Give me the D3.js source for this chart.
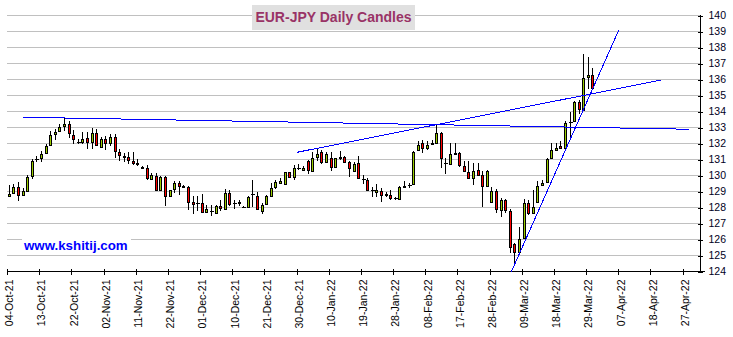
<!DOCTYPE html>
<html>
<head>
<meta charset="utf-8">
<script src="https://cdn.jsdelivr.net/npm/d3@7"></script>
<style>
  html, body { margin: 0; padding: 0; background: #fff; }
  svg { display: block; font-family: "Liberation Sans", Arial, sans-serif; }
</style>
</head>
<body>
<svg id="chart" width="733" height="337"></svg>
<script>
// Trading days (weekdays) shown as candles
const dates = [
  "2021-10-04","2021-10-05","2021-10-06","2021-10-07","2021-10-08","2021-10-11","2021-10-12","2021-10-13","2021-10-14","2021-10-15",
  "2021-10-18","2021-10-19","2021-10-20","2021-10-21","2021-10-22","2021-10-25","2021-10-26","2021-10-27","2021-10-28","2021-10-29",
  "2021-11-01","2021-11-02","2021-11-03","2021-11-04","2021-11-05","2021-11-08","2021-11-09","2021-11-10","2021-11-11","2021-11-12",
  "2021-11-15","2021-11-16","2021-11-17","2021-11-18","2021-11-19","2021-11-22","2021-11-23","2021-11-24","2021-11-25","2021-11-26",
  "2021-11-29","2021-11-30","2021-12-01","2021-12-02","2021-12-03","2021-12-06","2021-12-07","2021-12-08","2021-12-09","2021-12-10",
  "2021-12-13","2021-12-14","2021-12-15","2021-12-16","2021-12-17","2021-12-20","2021-12-21","2021-12-22","2021-12-23","2021-12-24",
  "2021-12-27","2021-12-28","2021-12-29","2021-12-30","2021-12-31","2022-01-03","2022-01-04","2022-01-05","2022-01-06","2022-01-07",
  "2022-01-10","2022-01-11","2022-01-12","2022-01-13","2022-01-14","2022-01-17","2022-01-18","2022-01-19","2022-01-20","2022-01-21",
  "2022-01-24","2022-01-25","2022-01-26","2022-01-27","2022-01-28","2022-01-31","2022-02-01","2022-02-02","2022-02-03","2022-02-04",
  "2022-02-07","2022-02-08","2022-02-09","2022-02-10","2022-02-11","2022-02-14","2022-02-15","2022-02-16","2022-02-17","2022-02-18",
  "2022-02-21","2022-02-22","2022-02-23","2022-02-24","2022-02-25","2022-02-28","2022-03-01","2022-03-02","2022-03-03","2022-03-04",
  "2022-03-07","2022-03-08","2022-03-09","2022-03-10","2022-03-11","2022-03-14","2022-03-15","2022-03-16","2022-03-17","2022-03-18",
  "2022-03-21","2022-03-22","2022-03-23","2022-03-24","2022-03-25","2022-03-28","2022-03-29","2022-03-30"
];

const open = [
  128.68,128.88,129.25,128.73,129.00,129.94,130.98,131.04,131.35,131.88,
  132.56,132.75,133.08,133.21,132.50,132.06,132.04,132.29,132.08,132.63,
  131.75,132.25,132.00,132.38,131.44,131.19,131.10,130.88,130.73,130.50,
  130.44,129.73,129.92,129.08,129.88,128.69,129.13,129.52,129.33,129.27,
  128.33,128.25,128.25,127.69,127.77,127.63,128.06,127.88,128.90,128.23,
  128.27,128.02,128.00,128.79,128.69,127.75,128.17,128.69,129.23,129.50,
  129.46,130.17,129.90,130.42,130.29,130.90,130.25,131.15,131.42,130.81,
  131.04,130.50,131.08,131.10,130.79,130.25,130.77,129.75,129.69,129.06,
  128.94,129.02,128.77,128.75,128.54,128.48,129.27,129.38,129.46,131.56,
  132.00,131.67,131.96,132.00,132.63,130.75,130.67,131.33,131.35,130.56,
  130.21,129.81,130.31,130.02,129.29,128.31,129.02,127.81,128.42,127.77,
  125.69,125.17,126.06,128.25,127.63,128.31,129.38,129.56,131.04,131.56,
  131.83,131.69,133.29,133.35,134.56,134.06,136.13,136.25
];
const high = [
  129.35,129.46,129.54,129.17,130.00,131.02,131.21,131.48,131.92,132.75,
  132.88,133.19,133.54,133.38,132.81,132.25,132.71,132.67,132.94,132.88,
  132.38,132.42,132.56,132.54,131.63,131.38,131.44,131.44,131.00,130.54,
  130.65,130.13,130.13,129.92,129.92,129.08,129.60,129.60,129.38,129.33,
  128.67,128.67,128.83,128.15,128.13,128.15,128.42,129.13,129.08,128.46,
  128.42,128.06,128.67,129.67,128.96,128.25,128.75,129.50,129.67,129.79,
  130.21,130.21,130.60,130.67,130.58,130.96,131.42,131.69,131.58,131.42,
  131.42,131.08,131.48,131.21,130.85,130.79,131.21,130.02,129.81,129.23,
  129.42,129.21,128.96,129.04,128.63,129.29,129.63,129.50,131.50,132.13,
  132.21,132.13,132.17,133.13,132.67,131.06,131.98,131.98,131.44,130.85,
  130.90,130.75,130.75,130.23,130.31,129.27,129.15,128.56,128.52,127.90,
  125.75,126.77,128.52,128.44,129.08,129.60,129.71,131.06,131.98,131.98,
  132.10,133.38,133.94,134.65,134.71,137.56,137.35,136.69
];
const low = [
  128.62,128.79,128.35,128.70,128.96,129.75,130.79,130.79,131.29,131.83,
  132.17,132.71,132.75,132.29,131.96,131.94,131.96,131.63,131.63,131.83,
  131.73,131.54,131.79,131.04,130.85,130.83,130.71,130.65,130.58,130.40,
  129.71,129.69,129.02,129.04,128.04,128.60,128.90,128.73,129.21,127.83,
  127.56,127.77,127.63,127.63,127.46,127.56,127.73,127.83,128.04,127.88,
  128.04,127.98,127.98,128.00,127.83,127.54,128.13,128.67,129.15,129.44,
  129.35,129.83,129.67,130.29,130.25,130.04,130.21,130.85,130.71,130.75,
  130.27,130.46,130.96,130.75,129.88,130.17,129.75,129.46,129.02,128.60,
  128.63,128.33,128.63,128.42,128.46,128.46,129.25,129.17,129.42,131.54,
  131.38,131.58,131.88,131.92,130.44,130.08,130.60,131.23,130.48,130.19,
  129.77,129.40,129.98,127.98,129.25,128.27,127.63,127.38,127.63,125.10,
  124.50,125.15,126.02,127.48,127.58,128.27,129.35,129.52,131.00,131.52,
  131.65,131.65,132.35,133.31,133.81,134.02,135.38,135.40
];
const close = [
  128.82,129.25,128.73,129.00,129.88,130.90,131.00,131.33,131.83,132.50,
  132.71,133.02,133.21,132.63,132.25,132.04,132.25,132.08,132.63,131.90,
  132.25,132.00,132.38,131.50,131.23,131.10,130.94,130.73,130.71,130.44,
  129.79,130.00,129.06,129.90,128.69,129.06,129.52,129.31,129.25,128.31,
  128.21,128.27,127.69,127.90,127.75,128.06,127.94,128.90,128.21,128.25,
  128.29,128.00,128.63,128.81,127.88,128.15,128.69,129.21,129.58,129.60,
  130.17,129.88,130.46,130.44,130.42,130.31,131.06,131.33,130.79,131.33,
  130.52,131.04,131.10,130.81,130.46,130.71,129.81,129.73,129.06,129.04,
  129.06,128.75,128.79,128.54,128.56,129.25,129.29,129.39,131.46,131.90,
  131.71,131.90,131.98,132.63,131.06,130.73,131.31,131.35,130.60,130.23,
  129.81,130.27,130.00,129.29,130.25,129.02,127.88,128.46,127.81,125.50,
  125.17,126.02,128.25,127.63,128.00,129.31,129.52,131.00,131.56,131.69,
  131.69,133.25,133.31,134.56,134.10,136.06,136.25,135.44
];

// Category axis labels, one every 7 trading days
const tickLabels = [
  "04-Oct-21","13-Oct-21","22-Oct-21","02-Nov-21","11-Nov-21","22-Nov-21","01-Dec-21","10-Dec-21",
  "21-Dec-21","30-Dec-21","10-Jan-22","19-Jan-22","28-Jan-22","08-Feb-22","17-Feb-22","28-Feb-22",
  "09-Mar-22","18-Mar-22","29-Mar-22","07-Apr-22","18-Apr-22","27-Apr-22"
];
const tickStep = 7;
const totalSlots = 151;            // trading-day slots on the axis (includes space ahead)
const priceTicks = d3.range(124, 141);

// Trend lines as [slot, price] anchor pairs
const trendLines = [
  [[3.55, 133.61], [148.46, 132.86]],
  [[63.23, 131.42], [142.52, 135.94]],
  [[109.84, 123.95], [133.29, 139.10]]
];

const svg = d3.select("#chart");
const plotL = 6.5, plotR = 700.5, plotT = 15, plotB = 271;

const x = d3.scaleLinear().domain([0, totalSlots]).range([plotL, plotR]);
const y = d3.scaleLinear().domain([124, 140]).range([plotB, plotT]);

// Horizontal gridlines
svg.append("g").selectAll("line")
  .data(priceTicks.filter(v => v > 124))
  .join("line")
  .attr("x1", plotL).attr("x2", plotR)
  .attr("y1", d => Math.round(y(d)) + 0.5).attr("y2", d => Math.round(y(d)) + 0.5)
  .attr("stroke", "#c0c0c0").attr("stroke-width", 1)
  .attr("shape-rendering", "crispEdges");

// Price axis on the right
const yAxis = d3.axisRight(y).tickValues(priceTicks).tickSize(0).tickPadding(0);
const gy = svg.append("g").attr("transform", `translate(${plotR},0)`).call(yAxis);
gy.select(".domain").remove();
gy.selectAll(".tick text").attr("x", 8).attr("dy", "0.35em")
  .attr("font-size", "10.5px").attr("font-family", "Liberation Sans, Arial, sans-serif")
  .attr("fill", "#000022");
gy.selectAll(".tick").append("line")
  .attr("x1", -2.5).attr("x2", 2.5)
  .attr("y1", 0.5).attr("y2", 0.5)
  .attr("stroke", "#000").attr("shape-rendering", "crispEdges");
svg.append("line")
  .attr("x1", plotR).attr("x2", plotR).attr("y1", plotT).attr("y2", plotB + 0.5)
  .attr("stroke", "#000").attr("shape-rendering", "crispEdges");

// Date axis along the bottom
const tickIdx = tickLabels.map((_, k) => k * tickStep);
const xAxis = d3.axisBottom(x).tickValues(tickIdx)
  .tickFormat((d, k) => tickLabels[k]).tickSize(0);
const gx = svg.append("g").attr("transform", `translate(0,${plotB + 0.5})`).call(xAxis);
gx.select(".domain").remove();
gx.selectAll(".tick").append("line")
  .attr("x1", 0.5).attr("x2", 0.5).attr("y1", -2.5).attr("y2", 3)
  .attr("stroke", "#000").attr("shape-rendering", "crispEdges");
gx.selectAll(".tick text")
  .attr("font-size", "10.5px").attr("font-family", "Liberation Sans, Arial, sans-serif")
  .attr("fill", "#000").attr("text-anchor", "end")
  .attr("y", 0).attr("dy", 0)
  .attr("transform", "translate(6.3,8) rotate(-90)");
svg.append("line")
  .attr("x1", plotL).attr("x2", plotR + 4).attr("y1", plotB + 0.5).attr("y2", plotB + 0.5)
  .attr("stroke", "#000").attr("shape-rendering", "crispEdges");

// Candles
const candles = dates.map((d, i) => ({ d, i, o: open[i], h: high[i], l: low[i], c: close[i] }));
const cg = svg.append("g").attr("shape-rendering", "crispEdges");
candles.forEach(k => {
  const cx = Math.round(x(k.i + 0.5));
  cg.append("line")
    .attr("x1", cx + 0.5).attr("x2", cx + 0.5)
    .attr("y1", Math.round(y(k.h))).attr("y2", Math.round(y(k.l)))
    .attr("stroke", "#000");
  const yTop = Math.round(y(Math.max(k.o, k.c)));
  const yBot = Math.round(y(Math.min(k.o, k.c)));
  if (yBot - yTop < 1) {
    cg.append("line")
      .attr("x1", cx - 1.5).attr("x2", cx + 2.5)
      .attr("y1", yTop + 0.5).attr("y2", yTop + 0.5)
      .attr("stroke", "#000").attr("stroke-width", 1);
  } else {
    cg.append("rect")
      .attr("x", cx - 1 + 0.5).attr("y", yTop + 0.5)
      .attr("width", 2).attr("height", yBot - yTop)
      .attr("fill", k.c >= k.o ? "#99cc00" : "#ff0000")
      .attr("stroke", "#000").attr("stroke-width", 1);
  }
});

// Trend lines
svg.append("g").selectAll("line")
  .data(trendLines)
  .join("line")
  .attr("x1", d => x(d[0][0])).attr("y1", d => y(d[0][1]))
  .attr("x2", d => x(d[1][0])).attr("y2", d => y(d[1][1]))
  .attr("stroke", "#0000ff").attr("stroke-width", 1)
  .attr("shape-rendering", "crispEdges");

// Title
svg.append("rect").attr("x", 252).attr("y", 5).attr("width", 163).attr("height", 25)
  .attr("fill", "#e0e0e0");
svg.append("text").attr("x", 333.5).attr("y", 22).attr("text-anchor", "middle")
  .attr("font-size", "14px").attr("font-weight", "bold")
  .attr("fill", "#993366").text("EUR-JPY Daily Candles");

// Site label
svg.append("rect").attr("x", 22).attr("y", 233).attr("width", 109).attr("height", 19)
  .attr("fill", "#ffffff");
svg.append("text").attr("x", 24).attr("y", 250)
  .attr("font-size", "13.3px").attr("font-weight", "bold")
  .attr("fill", "#0000ff").text("www.kshitij.com");
</script>
</body>
</html>
